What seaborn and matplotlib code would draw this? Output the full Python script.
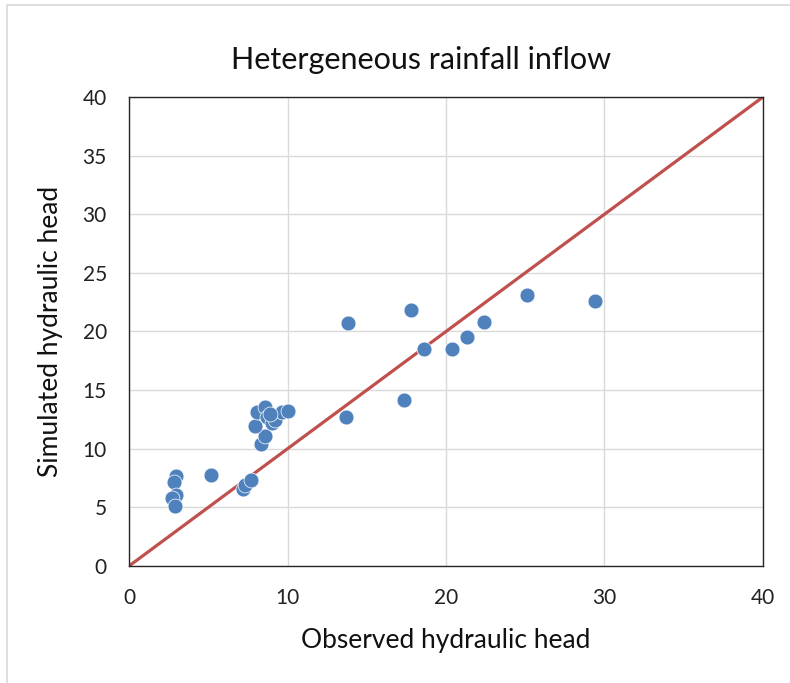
import matplotlib
matplotlib.use("Agg")
import matplotlib.pyplot as plt
from matplotlib.patches import Rectangle
import pandas as pd
import seaborn as sns

observed = [2.97, 2.84, 2.97, 2.71, 2.90, 5.17, 7.20, 7.30, 7.70,
            8.33, 8.58, 7.95, 8.07, 8.58, 8.70, 9.00, 9.20, 9.65, 10.03, 8.90,
            13.84, 17.79, 18.61, 20.40, 21.35, 22.42, 25.09, 29.42, 17.37, 13.69]
simulated = [7.68, 7.16, 6.06, 5.80, 5.10, 7.76, 6.55, 6.90, 7.30,
             10.40, 11.10, 11.94, 13.10, 13.56, 12.70, 12.20, 12.45, 13.10, 13.20, 13.00,
             20.75, 21.83, 18.48, 18.53, 19.53, 20.84, 23.14, 22.63, 14.19, 12.71]
identity = [0, 40]
ticks = [0, 5, 10, 15, 20, 25, 30, 35, 40]
xticks = [0, 10, 20, 30, 40]

df = pd.DataFrame({"obs": observed, "sim": simulated})
line_df = pd.DataFrame({"x": identity, "y": identity})

sns.set_theme(style="white")
plt.rcParams["font.family"] = ["Lato", "DejaVu Sans"]

fig = plt.figure(figsize=(7.9, 6.83), dpi=100)
ax = fig.add_axes([0.1633, 0.1713, 0.8025, 0.6867])

fig.patches.append(Rectangle((0.009, -0.01), 1.0, 1.003, transform=fig.transFigure,
                             fill=False, edgecolor="#D9D9D9", linewidth=1.2))

sns.lineplot(data=line_df, x="x", y="y", ax=ax, color="#C0504D", linewidth=2.3, zorder=2)
sns.scatterplot(data=df, x="obs", y="sim", ax=ax, color="#4F81BD", s=115,
                edgecolor="white", linewidth=0.5, zorder=3)

ax.set_xlim(0, 40)
ax.set_ylim(0, 40)
ax.set_xticks(xticks)
ax.set_yticks(ticks)
ax.grid(True, color="#D9D9D9", linewidth=1.0)
ax.set_axisbelow(True)
for sp in ax.spines.values():
    sp.set_color("#262626")
    sp.set_linewidth(1.0)
ax.tick_params(axis="y", length=0, labelsize=15, colors="#222222", pad=16)
ax.tick_params(axis="x", length=0, labelsize=15, colors="#222222", pad=16)

ax.set_xlabel("Observed hydraulic head", fontsize=19, color="#111111", labelpad=14)
ax.set_ylabel("Simulated hydraulic head", fontsize=19, color="#111111", labelpad=14)
fig.text(0.533, 0.912, "Hetergeneous rainfall inflow", ha="center", va="center",
         fontsize=22, color="#111111")

fig.savefig("out.png", dpi=100)
